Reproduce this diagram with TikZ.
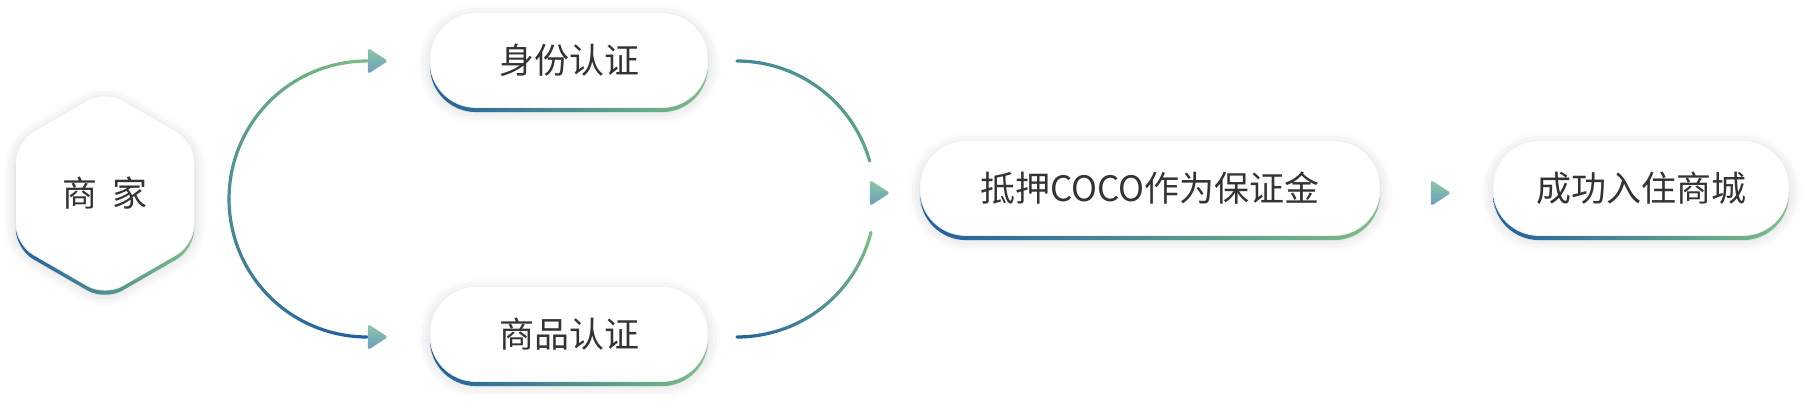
\documentclass[tikz,border=0pt]{standalone}
\usepackage{fontspec}
\newfontfamily\cjkfont{Noto Sans CJK SC}
\usetikzlibrary{shapes.geometric, shadows.blur}

\definecolor{flowblue}{HTML}{1F5FA0}
\definecolor{flowgreen}{HTML}{7CBF82}
\definecolor{flowteal}{HTML}{3F8896}
\definecolor{flowmint}{HTML}{5FA58A}
\definecolor{tipgreen}{HTML}{8EC7A2}
\definecolor{tipblue}{HTML}{6A9DC2}
\definecolor{textgray}{HTML}{333333}

\tikzset{
  flowline/.style={line width=1.6pt, line cap=round},
  boxbase/.style={draw=black!6, line width=0.4pt, fill=white, inner sep=0pt,
    text=textgray, font=\cjkfont\fontsize{17.5}{20}\selectfont,
    blur shadow={shadow xshift=0pt, shadow yshift=-2pt, shadow blur radius=6pt, shadow opacity=18},
    preaction={draw=none, left color=flowblue, right color=flowgreen, transform canvas={yshift=-2.3pt}}},
  stepbox/.style={boxbase, rounded corners=23pt, minimum height=47.5pt},
  hexbox/.style={boxbase, regular polygon, regular polygon sides=6, shape border rotate=30,
    minimum size=103pt, rounded corners=10pt},
  flowtip/.style={isosceles triangle, isosceles triangle apex angle=66, shape border rotate=0,
    minimum width=7pt, minimum height=10pt, inner sep=0pt, rounded corners=1.3pt,
    top color=tipgreen, bottom color=tipblue, draw=none},
}

% gradient arc: centre, start angle, end angle, start colour, end colour
\newcommand{\flowarc}[5]{%
  \foreach \k in {1,...,40}{%
    \pgfmathsetmacro{\angfrom}{#2+(#3-#2)*(\k-1)/40}%
    \pgfmathsetmacro{\angto}{#2+(#3-#2)*\k/40}%
    \pgfmathtruncatemacro{\mix}{100*\k/40}%
    \draw[flowline, draw=#5!\mix!#4] (#1) ++(\angfrom:138) arc[start angle=\angfrom, end angle=\angto, radius=138];
  }%
}

\begin{document}
\begin{tikzpicture}[x=0.5pt, y=-0.5pt, line cap=round, line join=round]
  \useasboundingbox (0,0) rectangle (1808,406);

  % arcs
  \coordinate (splitc) at (367,199);
  \coordinate (joinc) at (737,199);
  \flowarc{splitc}{270}{90}{flowgreen}{flowblue}
  \flowarc{joinc}{270}{344}{flowteal}{flowmint}
  \flowarc{joinc}{90}{14}{flowblue}{flowgreen}

  % boxes
  \node[hexbox] (merchant) at (105,193) {商\hspace{7.5pt}家};
  \node[stepbox, minimum width=139pt] (idcheck) at (569,60) {身份认证};
  \node[stepbox, minimum width=139pt] (goodscheck) at (569,334) {商品认证};
  \node[stepbox, minimum width=230pt] (deposit) at (1150,188) {抵押COCO作为保证金};
  \node[stepbox, minimum width=148pt] (settle) at (1641,188) {成功入住商城};

  % arrow tips
  \node[flowtip] (tipid) at (375,61) {};
  \node[flowtip] (tipgoods) at (375,337) {};
  \node[flowtip] (tipdeposit) at (877,193) {};
  \node[flowtip] (tipsettle) at (1438,193) {};

\end{tikzpicture}
\end{document}
